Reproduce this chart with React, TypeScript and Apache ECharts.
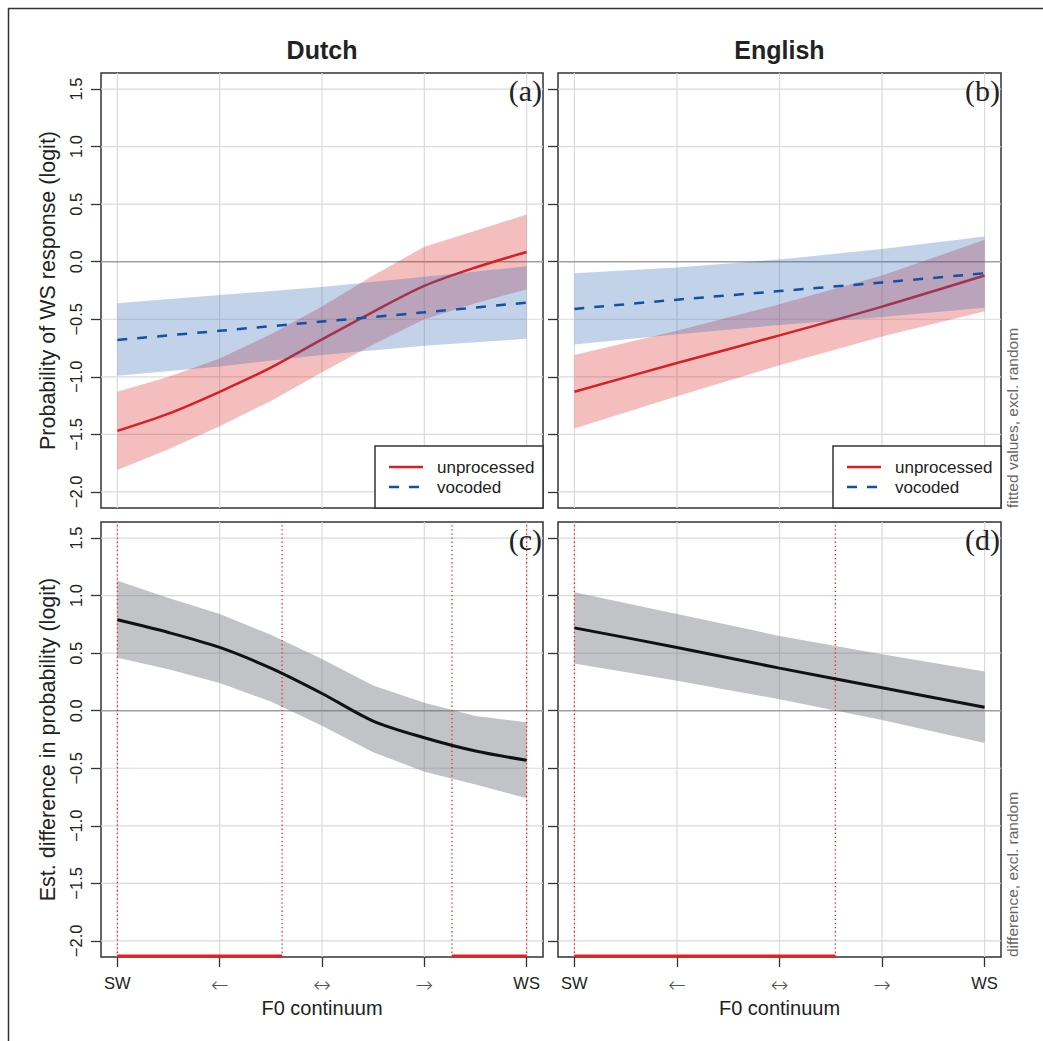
import React, { useEffect, useRef } from 'react';
import * as echarts from 'echarts';

// ---------------- Data ----------------
const continuumLabels = ['SW', '←', '↔', '→', 'WS'];
const continuumTicks = [0, 1, 2, 3, 4];
const logitTicks = [-2, -1.5, -1, -0.5, 0, 0.5, 1, 1.5];
const languages = ['Dutch', 'English'];
const conditionNames = ['unprocessed', 'vocoded'];
const panelTags = ['(a)', '(b)', '(c)', '(d)'];
const topYTitle = 'Probability of WS response (logit)';
const bottomYTitle = 'Est. difference in probability (logit)';
const xTitle = 'F0 continuum';
const topSideNote = 'fitted values, excl. random';
const bottomSideNote = 'difference, excl. random';

const halfSteps = [0, 0.5, 1, 1.5, 2, 2.5, 3, 3.5, 4];
const wholeSteps = [0, 1, 2, 3, 4];

const dutchUnprocFit = [-1.47, -1.32, -1.13, -0.92, -0.675, -0.435, -0.21, -0.05, 0.085];
const dutchUnprocUpper = [-1.13, -1.0, -0.84, -0.63, -0.39, -0.12, 0.13, 0.27, 0.41];
const dutchUnprocLower = [-1.81, -1.63, -1.43, -1.21, -0.96, -0.72, -0.5, -0.36, -0.24];

const dutchVocFit = [-0.68, -0.6, -0.52, -0.44, -0.355];
const dutchVocUpper = [-0.36, -0.29, -0.22, -0.13, -0.04];
const dutchVocLower = [-0.99, -0.91, -0.81, -0.73, -0.67];

const englishUnprocFit = [-1.13, -0.88, -0.64, -0.39, -0.12];
const englishUnprocUpper = [-0.81, -0.6, -0.37, -0.12, 0.19];
const englishUnprocLower = [-1.45, -1.17, -0.9, -0.65, -0.43];

const englishVocFit = [-0.41, -0.33, -0.255, -0.18, -0.1];
const englishVocUpper = [-0.1, -0.05, 0.02, 0.11, 0.22];
const englishVocLower = [-0.72, -0.63, -0.55, -0.48, -0.4];

const dutchDiffFit = [0.79, 0.68, 0.55, 0.37, 0.15, -0.09, -0.235, -0.35, -0.43];
const dutchDiffUpper = [1.13, 0.98, 0.84, 0.66, 0.45, 0.22, 0.07, -0.045, -0.1];
const dutchDiffLower = [0.46, 0.36, 0.24, 0.08, -0.13, -0.36, -0.53, -0.64, -0.76];

const englishDiffFit = [0.72, 0.55, 0.37, 0.2, 0.03];
const englishDiffUpper = [1.03, 0.84, 0.65, 0.49, 0.34];
const englishDiffLower = [0.41, 0.26, 0.1, -0.08, -0.28];

const dutchSigRegions = [[0, 1.61], [3.27, 4]];
const englishSigRegions = [[0, 2.545]];

// ---------------- Layout / style ----------------
const X_MIN = -0.16, X_MAX = 4.16, Y_MIN = -2.14, Y_MAX = 1.64;
const PANELS = [
  { left: 101, top: 73, width: 442, height: 435 },
  { left: 558, top: 73, width: 443, height: 435 },
  { left: 101, top: 522, width: 442, height: 435 },
  { left: 558, top: 522, width: 443, height: 435 },
];
const SANS = '"Liberation Sans", Arial, Helvetica, sans-serif';
const SERIF = '"Liberation Serif", "Times New Roman", serif';
const RED = '#d71f26';
const RED_BAND = 'rgba(220, 40, 40, 0.3)';
const BLUE = '#1250a8';
const BLUE_BAND = 'rgba(40, 100, 180, 0.29)';
const GRAY_BAND = 'rgba(110, 112, 120, 0.42)';
const GRID_COLOR = '#dadada';
const ZERO_COLOR = '#a0a0a0';
const SIG_RED = '#ff1f1f';

const fmtLogit = (v: number) => (v < 0 ? '\u2212' + Math.abs(v).toFixed(1) : v.toFixed(1));

function verticalGrid(idx: number) {
  return {
    type: 'custom', xAxisIndex: idx, yAxisIndex: idx, z: 1, silent: true,
    data: continuumTicks.map((v) => [v, 0]),
    renderItem: (params: any, api: any) => {
      const v = api.value(0);
      const a = api.coord([v, Y_MIN]);
      const b = api.coord([v, Y_MAX]);
      return { type: 'line', shape: { x1: a[0], y1: a[1], x2: b[0], y2: b[1] }, style: { stroke: GRID_COLOR, lineWidth: 1.2 } };
    },
  };
}
function horizontalGrid(idx: number) {
  return {
    type: 'custom', xAxisIndex: idx, yAxisIndex: idx, z: 1, silent: true,
    data: logitTicks.map((v) => [0, v]),
    renderItem: (params: any, api: any) => {
      const v = api.value(1);
      const a = api.coord([X_MIN, v]);
      const b = api.coord([X_MAX, v]);
      const zero = Math.abs(v) < 1e-9;
      return {
        type: 'line', z2: zero ? 2 : 1,
        shape: { x1: a[0], y1: a[1], x2: b[0], y2: b[1] },
        style: { stroke: zero ? ZERO_COLOR : GRID_COLOR, lineWidth: zero ? 1.6 : 1.2 },
      };
    },
  };
}
function band(idx: number, xs: number[], lower: number[], upper: number[], color: string, z: number) {
  return {
    type: 'custom', xAxisIndex: idx, yAxisIndex: idx, z, silent: true,
    data: xs.map((x, i) => [x, lower[i], upper[i]]),
    encode: { x: 0, y: [1, 2] },
    renderItem: (params: any, api: any) => {
      if (params.dataIndex !== 0) return null;
      const pts: number[][] = [];
      xs.forEach((x, i) => pts.push(api.coord([x, upper[i]])));
      for (let i = xs.length - 1; i >= 0; i--) pts.push(api.coord([xs[i], lower[i]]));
      return { type: 'polygon', shape: { points: pts, smooth: 0 }, style: { fill: color } };
    },
  };
}
function fitLine(idx: number, xs: number[], ys: number[], color: string, width: number, dashed: boolean, z: number) {
  return {
    type: 'line', xAxisIndex: idx, yAxisIndex: idx, z, silent: true,
    data: xs.map((x, i) => [x, ys[i]]),
    symbol: 'none', smooth: 0.3,
    lineStyle: { color, width, type: dashed ? [10, 10] : 'solid', cap: 'butt' },
  };
}
function sigLines(idx: number, regions: number[][]) {
  const bounds: number[] = [];
  regions.forEach((r) => { bounds.push(r[0]); bounds.push(r[1]); });
  return {
    type: 'custom', xAxisIndex: idx, yAxisIndex: idx, z: 6, silent: true,
    data: bounds.map((v) => [v, 0]),
    renderItem: (params: any, api: any) => {
      const v = api.value(0);
      const a = api.coord([v, Y_MIN]);
      const b = api.coord([v, Y_MAX]);
      return { type: 'line', shape: { x1: a[0], y1: a[1], x2: b[0], y2: b[1] }, style: { stroke: SIG_RED, lineWidth: 1.3, lineDash: [1.3, 2.8] } };
    },
  };
}
function sigBars(idx: number, regions: number[][]) {
  return {
    type: 'custom', xAxisIndex: idx, yAxisIndex: idx, z: 8, silent: true,
    data: regions.map((r) => [r[0], Y_MIN, r[1]]),
    renderItem: (params: any, api: any) => {
      const a = api.coord([api.value(0), Y_MIN]);
      const b = api.coord([api.value(2), Y_MIN]);
      return { type: 'line', shape: { x1: a[0], y1: a[1] - 1, x2: b[0], y2: b[1] - 1 }, style: { stroke: '#ee1c1c', lineWidth: 3 } };
    },
  };
}

function legendGraphic(p: { left: number; top: number; width: number; height: number }) {
  const right = p.left + p.width;
  const bottom = p.top + p.height;
  const boxW = 168, boxH = 62;
  const bx = right - boxW, by = bottom - boxH;
  return [
    { type: 'rect', z: 100, shape: { x: bx, y: by, width: boxW, height: boxH }, style: { fill: '#fff', stroke: '#333', lineWidth: 1.5 } },
    { type: 'line', z: 101, shape: { x1: bx + 14, y1: by + 21, x2: bx + 48, y2: by + 21 }, style: { stroke: RED, lineWidth: 2.5 } },
    { type: 'line', z: 101, shape: { x1: bx + 14, y1: by + 41, x2: bx + 48, y2: by + 41 }, style: { stroke: BLUE, lineWidth: 2.5, lineDash: [10, 10] } },
    { type: 'text', z: 101, x: bx + 62, y: by + 21, style: { text: conditionNames[0], fontSize: 17, fontFamily: SANS, fill: '#222', textAlign: 'left', textVerticalAlign: 'middle' } },
    { type: 'text', z: 101, x: bx + 62, y: by + 41, style: { text: conditionNames[1], fontSize: 17, fontFamily: SANS, fill: '#222', textAlign: 'left', textVerticalAlign: 'middle' } },
  ];
}

export default function App() {
  const ref = useRef<HTMLDivElement>(null);
  useEffect(() => {
    if (!ref.current) return;
    const chart = echarts.init(ref.current, null, { renderer: 'svg' });

    const grids = PANELS.map((p) => ({
      left: p.left, top: p.top, width: p.width, height: p.height,
      show: true, borderColor: '#333', borderWidth: 1.5, backgroundColor: 'transparent',
      containLabel: false, outerBoundsMode: 'none',
    }));

    const xAxes = PANELS.map((p, i) => ({
      type: 'value', gridIndex: i, min: X_MIN, max: X_MAX,
      axisLine: { show: false, onZero: false }, splitLine: { show: false },
      axisTick: { show: i >= 2, customValues: continuumTicks, length: 10, lineStyle: { color: '#333', width: 1.3 } },
      axisLabel: {
        show: i >= 2, customValues: continuumTicks, margin: 17,
        formatter: (v: number) => {
          const s = continuumLabels[Math.round(v)];
          return s === 'SW' || s === 'WS' ? s : '{arr|' + s + '}';
        },
        rich: { arr: { fontFamily: '"DejaVu Sans", sans-serif', fontSize: 21, color: '#555', fontWeight: 'lighter' } },
        fontSize: 16.5, fontFamily: SANS, color: '#222',
      },
    }));

    const yAxes = PANELS.map((p, i) => ({
      type: 'value', gridIndex: i, min: Y_MIN, max: Y_MAX,
      axisLine: { show: false, onZero: false }, splitLine: { show: false },
      axisTick: { show: true, customValues: logitTicks, length: 10, lineStyle: { color: '#333', width: 1.3 } },
      axisLabel: {
        show: i % 2 === 0, customValues: logitTicks, margin: 17, rotate: 90,
        formatter: (v: number) => fmtLogit(v),
        fontSize: 16.5, fontFamily: SANS, color: '#222',
      },
    }));

    const series: any[] = [];
    PANELS.forEach((p, i) => { series.push(verticalGrid(i)); series.push(horizontalGrid(i)); });

    // (a) Dutch fitted
    series.push(band(0, halfSteps, dutchUnprocLower, dutchUnprocUpper, RED_BAND, 2));
    series.push(fitLine(0, halfSteps, dutchUnprocFit, RED, 2.5, false, 3));
    series.push(band(0, wholeSteps, dutchVocLower, dutchVocUpper, BLUE_BAND, 4));
    series.push(fitLine(0, wholeSteps, dutchVocFit, BLUE, 2.5, true, 5));
    // (b) English fitted
    series.push(band(1, wholeSteps, englishUnprocLower, englishUnprocUpper, RED_BAND, 2));
    series.push(fitLine(1, wholeSteps, englishUnprocFit, RED, 2.5, false, 3));
    series.push(band(1, wholeSteps, englishVocLower, englishVocUpper, BLUE_BAND, 4));
    series.push(fitLine(1, wholeSteps, englishVocFit, BLUE, 2.5, true, 5));
    // (c) Dutch difference
    series.push(band(2, halfSteps, dutchDiffLower, dutchDiffUpper, GRAY_BAND, 2));
    series.push(sigLines(2, dutchSigRegions));
    series.push(fitLine(2, halfSteps, dutchDiffFit, '#111', 3, false, 7));
    series.push(sigBars(2, dutchSigRegions));
    // (d) English difference
    series.push(band(3, wholeSteps, englishDiffLower, englishDiffUpper, GRAY_BAND, 2));
    series.push(sigLines(3, englishSigRegions));
    series.push(fitLine(3, wholeSteps, englishDiffFit, '#111', 3, false, 7));
    series.push(sigBars(3, englishSigRegions));

    const graphic: any[] = [
      { type: 'line', z: 100, shape: { x1: 8, y1: 8.5, x2: 1043, y2: 8.5 }, style: { stroke: '#333', lineWidth: 1.5 } },
      { type: 'line', z: 100, shape: { x1: 8.5, y1: 8, x2: 8.5, y2: 1041 }, style: { stroke: '#333', lineWidth: 1.5 } },
    ];
    // column titles and x titles
    [0, 1].forEach((c) => {
      const p = PANELS[c];
      graphic.push({ type: 'text', z: 100, x: p.left + p.width / 2, y: 50, style: { text: languages[c], fontSize: 25, fontWeight: 'bold', fontFamily: SANS, fill: '#222', textAlign: 'center', textVerticalAlign: 'middle' } });
      const pb = PANELS[c + 2];
      graphic.push({ type: 'text', z: 100, x: pb.left + pb.width / 2, y: 1008, style: { text: xTitle, fontSize: 20, fontFamily: SANS, fill: '#222', textAlign: 'center', textVerticalAlign: 'middle' } });
    });
    // y titles
    graphic.push({ type: 'text', z: 100, x: 48, y: PANELS[0].top + PANELS[0].height / 2, rotation: Math.PI / 2, style: { text: topYTitle, fontSize: 21.5, fontFamily: SANS, fill: '#222', textAlign: 'center', textVerticalAlign: 'middle' } });
    graphic.push({ type: 'text', z: 100, x: 48, y: PANELS[2].top + PANELS[2].height / 2, rotation: Math.PI / 2, style: { text: bottomYTitle, fontSize: 21.5, fontFamily: SANS, fill: '#222', textAlign: 'center', textVerticalAlign: 'middle' } });
    // side notes
    graphic.push({ type: 'text', z: 100, x: 1012, y: PANELS[1].top + PANELS[1].height, rotation: Math.PI / 2, style: { text: topSideNote, fontSize: 15.5, fontFamily: SANS, fill: '#666', textAlign: 'left', textVerticalAlign: 'middle' } });
    graphic.push({ type: 'text', z: 100, x: 1012, y: PANELS[3].top + PANELS[3].height, rotation: Math.PI / 2, style: { text: bottomSideNote, fontSize: 15.5, fontFamily: SANS, fill: '#666', textAlign: 'left', textVerticalAlign: 'middle' } });
    // panel tags
    PANELS.forEach((p, i) => {
      graphic.push({ type: 'text', z: 100, x: p.left + p.width - 1, y: p.top + 17, style: { text: panelTags[i], fontSize: 30, fontFamily: SERIF, fill: '#222', textAlign: 'right', textVerticalAlign: 'middle' } });
    });
    // legends
    graphic.push(...legendGraphic(PANELS[0]));
    graphic.push(...legendGraphic(PANELS[1]));

    chart.setOption({
      animation: false,
      backgroundColor: '#fff',
      grid: grids,
      xAxis: xAxes,
      yAxis: yAxes,
      series,
      graphic,
    });
    return () => chart.dispose();
  }, []);
  return <div ref={ref} style={{ position: 'fixed', left: 0, top: 0, width: 1043, height: 1041 }} />;
}
